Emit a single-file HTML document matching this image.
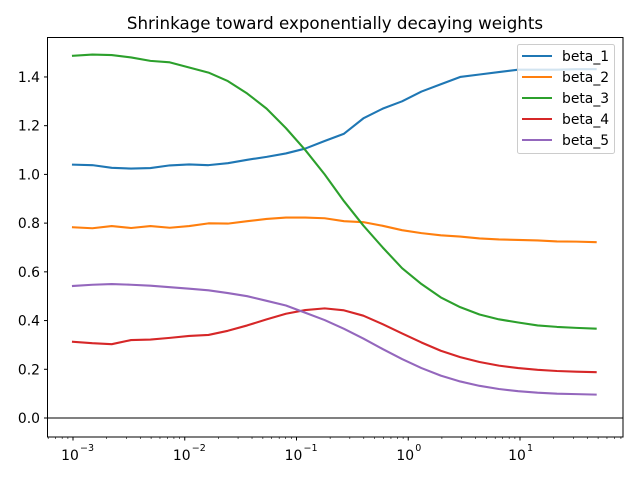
<!DOCTYPE html>
<html><head><meta charset="utf-8"><style>
body{margin:0;background:#fff}
svg{font-family:"DejaVu Sans","Liberation Sans",sans-serif}
</style></head><body>
<svg id="c" width="640" height="480" xmlns="http://www.w3.org/2000/svg">
<rect width="640" height="480" fill="#fff"/>
<text x="335" y="29" text-anchor="middle" font-size="16.7">Shrinkage toward exponentially decaying weights</text>
<g id="grid"></g>
<g id="lines"></g>
<rect x="47.5" y="37.5" width="575.5" height="399.5" fill="none" stroke="#000" stroke-width="1"/>
<g id="legend"></g>
</svg>
<script>
const seriesNames = ["beta_1","beta_2","beta_3","beta_4","beta_5"];
const colors = ["#1f77b4","#ff7f0e","#2ca02c","#d62728","#9467bd"];
const logStart = -3, logEnd = 1.677, nPts = 28;
const beta1 = [1.04,1.038,1.027,1.024,1.026,1.037,1.041,1.038,1.046,1.06,1.072,1.086,1.106,1.137,1.167,1.23,1.27,1.30,1.34,1.37,1.40,1.41,1.42,1.43,1.43,1.43,1.432,1.432];
const beta2 = [0.783,0.779,0.788,0.780,0.788,0.781,0.788,0.799,0.798,0.808,0.817,0.823,0.823,0.820,0.808,0.804,0.789,0.771,0.759,0.750,0.745,0.737,0.733,0.731,0.729,0.725,0.724,0.722];
const beta3 = [1.487,1.492,1.490,1.480,1.466,1.460,1.439,1.418,1.383,1.332,1.270,1.190,1.100,1.000,0.890,0.790,0.700,0.615,0.550,0.495,0.455,0.425,0.405,0.392,0.380,0.374,0.370,0.367];
const beta4 = [0.313,0.307,0.303,0.320,0.322,0.329,0.337,0.341,0.358,0.380,0.405,0.428,0.443,0.450,0.442,0.420,0.385,0.347,0.310,0.276,0.250,0.230,0.215,0.205,0.198,0.193,0.190,0.188];
const beta5 = [0.542,0.547,0.550,0.547,0.543,0.537,0.531,0.524,0.513,0.500,0.481,0.462,0.432,0.402,0.366,0.326,0.283,0.242,0.205,0.174,0.150,0.132,0.119,0.110,0.104,0.100,0.098,0.096];
const yTicks = [0.0,0.2,0.4,0.6,0.8,1.0,1.2,1.4];
const xTickExps = [-3,-2,-1,0,1];
const allSeries = [beta1,beta2,beta3,beta4,beta5];
const xs = []; for(let i=0;i<nPts;i++) xs.push(Math.pow(10, logStart + i*(logEnd-logStart)/(nPts-1)));
const NS="http://www.w3.org/2000/svg";
function X(v){return 73 + (Math.log10(v)+3)*111.75;}
function Y(v){return 418 - v*243.6;}
function mk(tag, attrs, parent){const e=document.createElementNS(NS,tag);for(const k in attrs)e.setAttribute(k,attrs[k]);parent.appendChild(e);return e;}
const grid=document.getElementById('grid'), lines=document.getElementById('lines'), leg=document.getElementById('legend');
yTicks.forEach(t=>{
  const y=Y(t);
  const tk=mk('line',{x1:47.5,x2:44,y1:y,y2:y,stroke:'#000'},grid);
  
  
  const tx=mk('text',{x:40,y:y+5,'text-anchor':'end','font-size':13.9},grid);
  tx.textContent=t.toFixed(1);
  
  
});
xTickExps.forEach(e=>{
  const x=X(Math.pow(10,e));
  const tk=mk('line',{x1:x,x2:x,y1:437,y2:440.5,stroke:'#000'},grid);
  
  
  const tx=mk('text',{x:x-3,y:460,'text-anchor':'middle','font-size':13.9},grid);
  tx.textContent='10';
  
  
  const sp=mk('text',{x:x+7,y:451,'text-anchor':'start','font-size':9.5},grid);
  sp.textContent = e<0 ? '\u2212'+String(-e) : String(e);
  
  
});
for(let e=-4;e<=1;e++){for(let m=2;m<=9;m++){const v=m*Math.pow(10,e);const x=X(v);if(x<47.5||x>623)continue;
  const tk=mk('line',{x1:x,x2:x,y1:437,y2:439,stroke:'#000','stroke-width':0.6},grid);
  
  }}
const z=mk('line',{x1:47.5,x2:623,y1:Y(0),y2:Y(0),stroke:'#808080','stroke-width':2},lines);


allSeries.forEach((s,k)=>{
  const d=s.map((v,i)=>(i?'L':'M')+X(xs[i]).toFixed(2)+' '+Y(v).toFixed(2)).join(' ');
  const p=mk('path',{d:d,fill:'none',stroke:colors[k],'stroke-width':2.1,'stroke-linejoin':'round','stroke-linecap':'square'},lines);
  
  
});
const box=mk('rect',{x:517.5,y:44.5,width:97,height:109,rx:2,fill:'#fff','fill-opacity':0.8,stroke:'#ccc'},leg);


seriesNames.forEach((n,k)=>{
  const y=56+k*21;
  const l=mk('line',{x1:522,x2:552,y1:y,y2:y,stroke:colors[k],'stroke-width':2.1},leg);
  
  
  const t=mk('text',{x:562,y:y+5,'font-size':13.9},leg);
  t.textContent=n;
  
  
});
</script>
</body></html>
